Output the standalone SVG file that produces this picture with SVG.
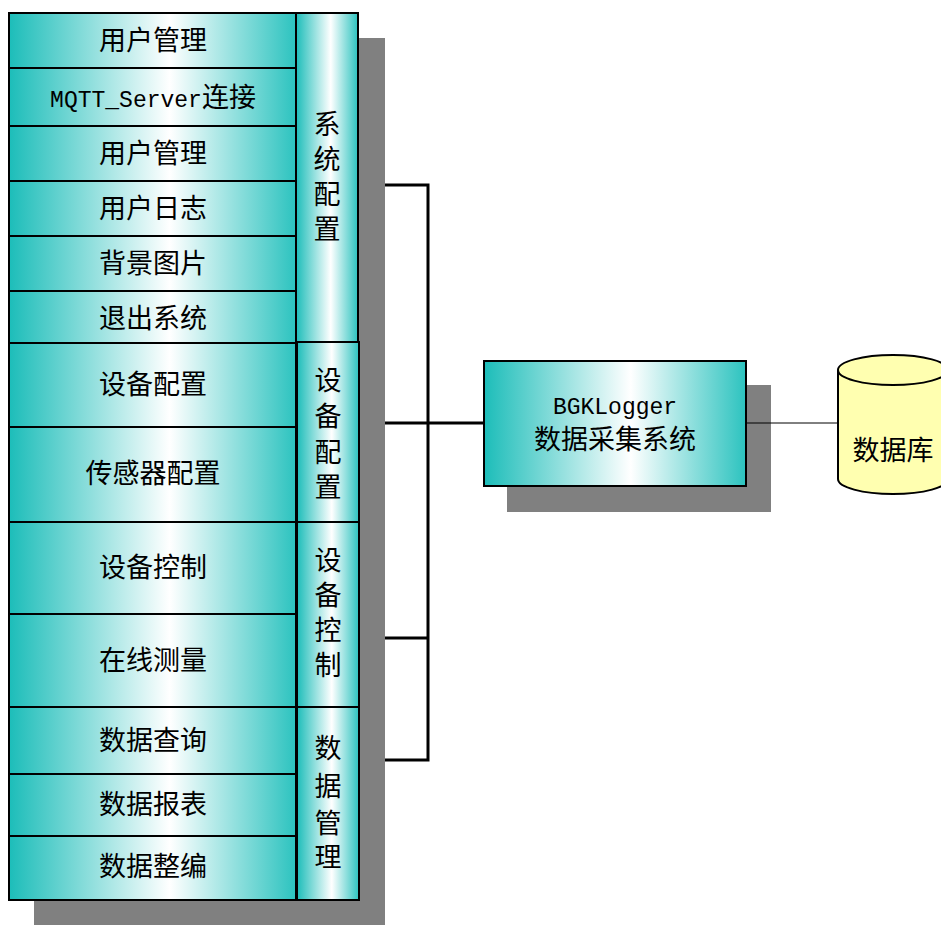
<svg xmlns="http://www.w3.org/2000/svg" width="941" height="926" viewBox="0 0 941 926">
<defs>
<linearGradient id="tg" x1="0" y1="0" x2="1" y2="0">
<stop offset="0" stop-color="#1CBDB9"/>
<stop offset="0.56" stop-color="#FFFFFF"/>
<stop offset="1" stop-color="#2CC3BF"/>
</linearGradient>
<style>
.cell{fill:url(#tg);stroke:#000;stroke-width:2}
.sh{fill:#808080}
.t{font-family:"Noto Sans CJK SC","Liberation Sans",sans-serif;font-size:27px;fill:#000;text-anchor:middle}
.m{font-family:"Liberation Mono",monospace;font-size:23px}
.c{fill:none;stroke:#000;stroke-width:3}
.thin{fill:none;stroke:#000;stroke-width:1}
</style>
</defs>
<rect width="941" height="926" fill="#fff"/>
<rect class="sh" x="34" y="38" width="351" height="887"/>
<rect class="sh" x="507" y="385" width="264" height="127"/>

<g id="connectors">
<polyline class="c" points="385,185 428,185 428,760 385,760"/>
<line class="c" x1="385" y1="423" x2="484" y2="423"/>
<line class="c" x1="385" y1="638" x2="428" y2="638"/>
<line class="thin" x1="746" y1="423" x2="838" y2="423"/>
</g>

<g id="n-yhgl1"><rect class="cell" x="9" y="13" width="287" height="55"/><text class="t" x="153" y="50">用户管理</text></g>
<g id="n-mqtt"><rect class="cell" x="9" y="68" width="287" height="58"/><text class="t" x="153" y="107"><tspan class="m">MQTT_Server</tspan>连接</text></g>
<g id="n-yhgl2"><rect class="cell" x="9" y="126" width="287" height="55"/><text class="t" x="153" y="163">用户管理</text></g>
<g id="n-yhrz"><rect class="cell" x="9" y="181" width="287" height="55"/><text class="t" x="153" y="218">用户日志</text></g>
<g id="n-bjtp"><rect class="cell" x="9" y="236" width="287" height="55"/><text class="t" x="153" y="273">背景图片</text></g>
<g id="n-tcxt"><rect class="cell" x="9" y="291" width="287" height="52"/><text class="t" x="153" y="328">退出系统</text></g>
<g id="n-sbpz"><rect class="cell" x="9" y="343" width="287" height="84"/><text class="t" x="153" y="394">设备配置</text></g>
<g id="n-cgqpz"><rect class="cell" x="9" y="427" width="287" height="95"/><text class="t" x="153" y="483">传感器配置</text></g>
<g id="n-sbkz"><rect class="cell" x="9" y="522" width="287" height="92"/><text class="t" x="153" y="577">设备控制</text></g>
<g id="n-zxcl"><rect class="cell" x="9" y="614" width="287" height="93"/><text class="t" x="153" y="670">在线测量</text></g>
<g id="n-sjcx"><rect class="cell" x="9" y="707" width="287" height="67"/><text class="t" x="153" y="750">数据查询</text></g>
<g id="n-sjbb"><rect class="cell" x="9" y="774" width="287" height="62"/><text class="t" x="153" y="814">数据报表</text></g>
<g id="n-sjzb"><rect class="cell" x="9" y="836" width="287" height="64"/><text class="t" x="153" y="876">数据整编</text></g>

<g id="g-xtpz"><rect class="cell" x="296" y="13" width="62" height="329"/>
<text class="t" x="327"><tspan x="327" y="134">系</tspan><tspan x="327" y="169">统</tspan><tspan x="327" y="204">配</tspan><tspan x="327" y="239">置</tspan></text></g>
<g id="g-sbpz"><rect class="cell" x="297" y="342" width="62" height="180"/>
<text class="t" x="328"><tspan x="328" y="390">设</tspan><tspan x="328" y="426">备</tspan><tspan x="328" y="462">配</tspan><tspan x="328" y="497">置</tspan></text></g>
<g id="g-sbkz"><rect class="cell" x="297" y="522" width="62" height="185"/>
<text class="t" x="328"><tspan x="328" y="570">设</tspan><tspan x="328" y="605">备</tspan><tspan x="328" y="640">控</tspan><tspan x="328" y="675">制</tspan></text></g>
<g id="g-sjgl"><rect class="cell" x="297" y="707" width="62" height="193"/>
<text class="t" x="328"><tspan x="328" y="758">数</tspan><tspan x="328" y="796">据</tspan><tspan x="328" y="833">管</tspan><tspan x="328" y="867">理</tspan></text></g>

<g id="n-main"><rect class="cell" x="484" y="361" width="262" height="125"/>
<text class="t" x="615" y="414"><tspan class="m">BGKLogger</tspan></text>
<text class="t" x="615" y="449">数据采集系统</text></g>

<g id="n-db">
<path d="M838,370 L838,479 A55,15 0 0 0 948,479 L948,370" fill="#FFFFB0" stroke="#000" stroke-width="2"/>
<ellipse cx="893" cy="370" rx="55" ry="15" fill="#FFFFB0" stroke="#000" stroke-width="2"/>
<text class="t" x="893" y="460">数据库</text>
</g>
</svg>
